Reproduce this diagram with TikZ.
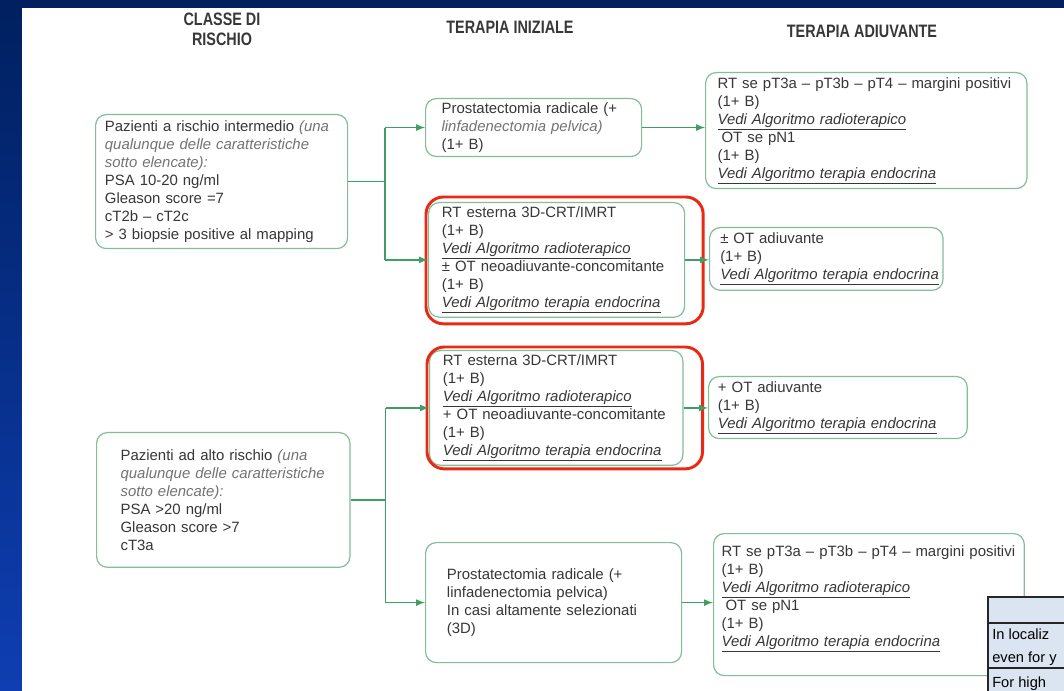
\documentclass[tikz,border=0pt]{standalone}
\usepackage{fontspec}
\setmainfont{Liberation Sans}
\newfontfamily\headfont[FakeStretch=0.8]{Liberation Sans}
\usetikzlibrary{arrows,calc}

\definecolor{navy}{RGB}{0,32,96}
\definecolor{stripblue}{RGB}{14,62,178}
\definecolor{boxgreen}{RGB}{130,190,150}
\definecolor{linegreen}{RGB}{60,160,100}
\definecolor{redline}{RGB}{235,40,20}
\definecolor{txtgray}{RGB}{55,55,55}
\definecolor{itgray}{RGB}{115,115,115}
\definecolor{tabblue}{RGB}{219,229,241}

\newcommand{\vedi}[1]{\underline{\textit{#1}}}
\newcommand{\soft}[1]{{\color{itgray}\textit{#1}}}

\tikzset{
  gbox/.style={draw=boxgreen, line width=0.9pt, rounded corners=8pt, anchor=north west,
    align=left, inner xsep=7pt, inner ysep=3pt, text=txtgray,
    font=\fontsize{11.2}{13.5}\selectfont},
  redframe/.style={draw=redline, line width=2.2pt, rounded corners=13pt},
  conn/.style={draw=linegreen, line width=1.3pt},
  arr/.style={conn, -latex},
  head/.style={align=center, text=txtgray, font=\headfont\bfseries\fontsize{13.5}{15}\selectfont}
}

\begin{document}
\begin{tikzpicture}[x=0.75pt,y=-0.75pt]
\useasboundingbox (0,0) rectangle (1064,691);
% slide background
\fill[navy] (0,0) rectangle (1064,691);
\shade[top color=navy, bottom color=stripblue] (0,8) rectangle (22,691);
\fill[white] (22,8) rectangle (1064,691);

% column titles
\node[head] (hCls) at (222,29) {CLASSE DI\\RISCHIO};
\node[head] (hIni) at (510,27) {TERAPIA INIZIALE};
\node[head] (hAdi) at (862,31) {TERAPIA ADIUVANTE};

% intermediate risk
\node[gbox, text width=175pt, minimum height=100.5pt] (b1) at (95,114)
  {Pazienti a rischio intermedio \soft{(una}\\
   \soft{qualunque delle caratteristiche}\\
   \soft{sotto elencate):}\\
   PSA 10-20 ng/ml\\
   Gleason score =7\\
   cT2b -- cT2c\\
   > 3 biopsie positive al mapping};
\node[gbox, inner xsep=12pt, text width=138pt, minimum height=42pt] (b2) at (425,98)
  {Prostatectomia radicale (+\\
   \soft{linfadenectomia pelvica)}\\
   (1+ B)};
\node[gbox, inner xsep=9pt, text width=223pt, minimum height=87pt] (b3) at (705,72)
  {RT se pT3a -- pT3b -- pT4 -- margini positivi\\
   (1+ B)\\
   \vedi{Vedi Algoritmo radioterapico}\\
   \hspace{3pt}OT se pN1\\
   (1+ B)\\
   \vedi{Vedi Algoritmo terapia endocrina}};
\node[gbox, inner xsep=10pt, text width=172pt, minimum height=85.5pt] (b4) at (428,202)
  {RT esterna 3D-CRT/IMRT\\
   (1+ B)\\
   \vedi{Vedi Algoritmo radioterapico}\\
   ± OT neoadiuvante-concomitante\\
   (1+ B)\\
   \vedi{Vedi Algoritmo terapia endocrina}};
\draw[redframe] ($(b4.north west)+(-2,-5)$) rectangle ($(b4.south east)+(18,6)$);
\node[gbox, inner xsep=8pt, text width=159pt, minimum height=47pt] (b5) at (709,227)
  {± OT adiuvante\\
   (1+ B)\\
   \vedi{Vedi Algoritmo terapia endocrina}};

% high risk
\node[gbox, inner xsep=10pt, text width=170pt, minimum height=86pt] (b6) at (429,350)
  {RT esterna 3D-CRT/IMRT\\
   (1+ B)\\
   \vedi{Vedi Algoritmo radioterapico}\\
   + OT neoadiuvante-concomitante\\
   (1+ B)\\
   \vedi{Vedi Algoritmo terapia endocrina}};
\draw[redframe] ($(b6.north west)+(-2,-3)$) rectangle ($(b6.south east)+(19,3)$);
\node[gbox, text width=180pt, minimum height=46.5pt] (b7) at (708,376)
  {+ OT adiuvante\\
   (1+ B)\\
   \vedi{Vedi Algoritmo terapia endocrina}};
\node[gbox, inner xsep=18pt, text width=154pt, minimum height=101pt] (b8) at (96,432)
  {Pazienti ad alto rischio \soft{(una}\\
   \soft{qualunque delle caratteristiche}\\
   \soft{sotto elencate):}\\
   PSA >20 ng/ml\\
   Gleason score >7\\
   cT3a};
\node[gbox, inner xsep=16pt, text width=160pt, minimum height=90pt] (b9) at (425,542)
  {Prostatectomia radicale (+\\
   linfadenectomia pelvica)\\
   In casi altamente selezionati\\
   (3D)};
\node[gbox, inner xsep=6pt, text width=221pt, minimum height=106.5pt] (b10) at (713,533)
  {RT se pT3a -- pT3b -- pT4 -- margini positivi\\
   (1+ B)\\
   \vedi{Vedi Algoritmo radioterapico}\\
   \hspace{3pt}OT se pN1\\
   (1+ B)\\
   \vedi{Vedi Algoritmo terapia endocrina}\\
   \mbox{}};

% connectors
\draw[conn] (b1.east) -- ++(37,0) coordinate (j1);
\draw[conn] (j1 |- b2.west) -- (j1 |- b4.west);
\draw[arr] (j1 |- b2.west) -- (b2.west);
\draw[arr] (j1 |- b4.west) -- (b4.west);
\draw[arr] (b2.east) -- (b2.east -| b3.west);
\draw[arr] (b4.east) -- (b4.east -| b5.west);
\draw[conn] (b8.east) -- ++(35,0) coordinate (j2);
\draw[conn] (j2 |- b6.west) -- (j2 |- b9.west);
\draw[arr] (j2 |- b6.west) -- (b6.west);
\draw[arr] (j2 |- b9.west) -- (b9.west);
\draw[arr] (b6.east) -- (b6.east -| b7.west);
\draw[arr] (b9.east) -- (b9.east -| b10.west);

% piece of a table at the corner
\begin{scope}
  \clip (0,0) rectangle (1064,691);
  \fill[tabblue] (988,597) rectangle (1070,695);
  \draw[black!85, line width=1.6pt] (1070,597) -- (988,597) -- (988,695);
  \draw[black!85, line width=1pt] (988,623) -- (1070,623) (988,668) -- (1070,668);
  \node[anchor=base west, font=\fontsize{11}{13}\selectfont, inner sep=0pt] (t1) at (992,639) {In localiz};
  \node[anchor=base west, font=\fontsize{11}{13}\selectfont, inner sep=0pt] (t2) at (992,662) {even for y};
  \node[anchor=base west, font=\fontsize{11}{13}\selectfont, inner sep=0pt] (t3) at (992,687) {For high};
\end{scope}
\end{tikzpicture}
\end{document}
